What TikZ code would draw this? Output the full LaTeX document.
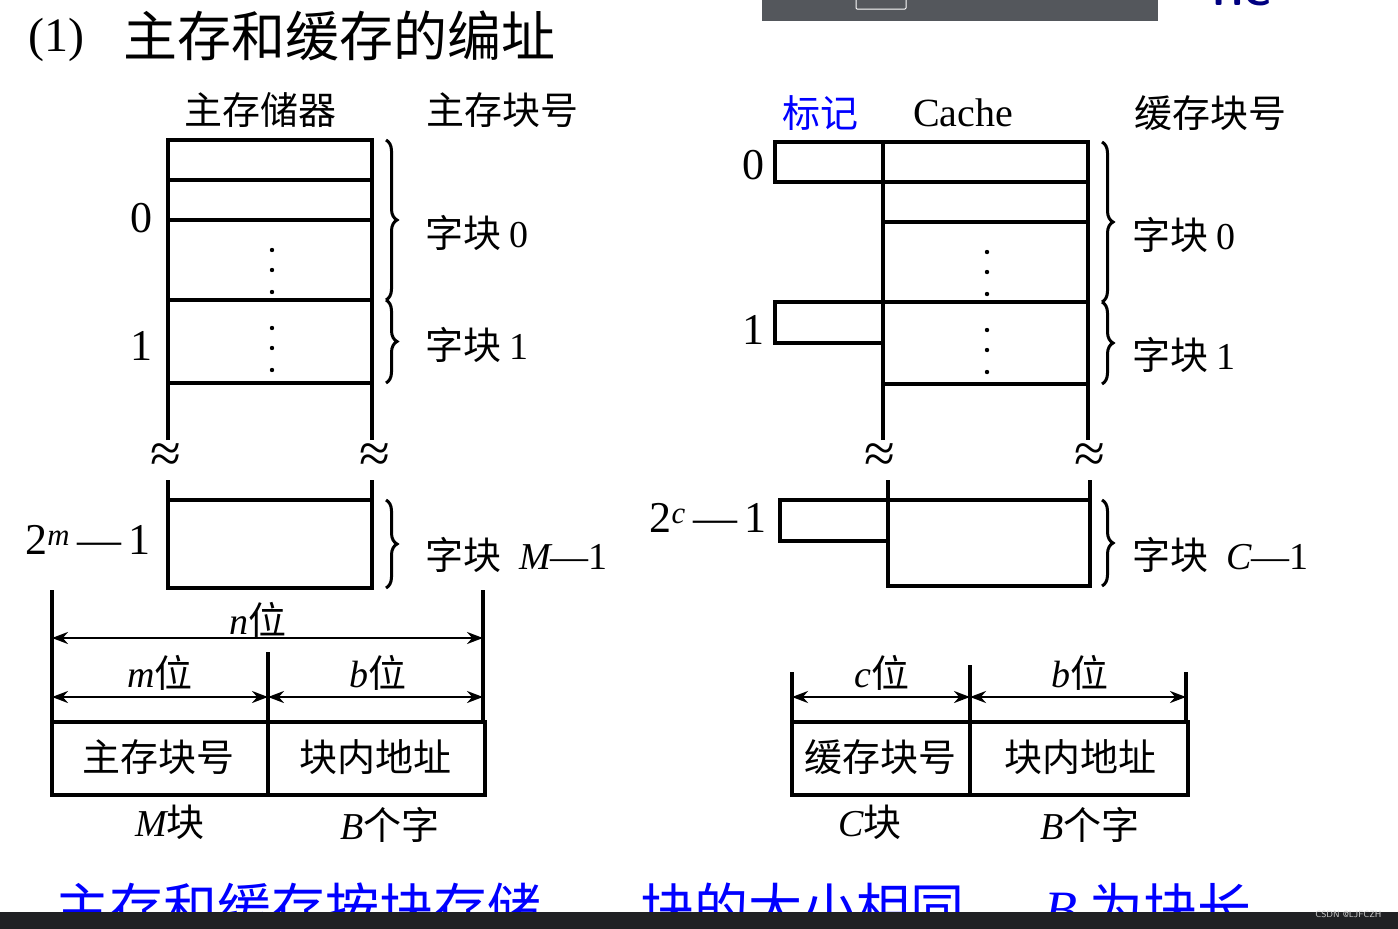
\documentclass[tikz,border=0pt]{standalone}
\usepackage{fontspec}
\setmainfont{Liberation Serif}
\newfontfamily\cjk{Noto Sans CJK SC}
\usetikzlibrary{decorations.pathreplacing,arrows.meta}
\definecolor{barg}{RGB}{84,87,92}
\definecolor{barb}{RGB}{32,33,36}
\begin{document}
\begin{tikzpicture}[x=1pt,y=-1pt,
  thick line/.style={line width=3.5pt},
  lbl/.style={font=\fontsize{38}{40}\selectfont\cjk, inner sep=0pt},
  num/.style={font=\fontsize{44}{46}\selectfont, inner sep=0pt},
  brc/.style={line width=3pt,decorate,decoration={brace,amplitude=11pt}},
  dim/.style={line width=2.5pt,{Stealth[length=16pt]}-{Stealth[length=16pt]}},
  wave/.style={font=\fontsize{56}{56}\selectfont, inner sep=0pt}]
\useasboundingbox (0,0) rectangle (1398,929);
\fill[white] (0,0) rectangle (1398,929);
% top bar
\fill[barg] (762,0) rectangle (1158,21);
\draw[white,line width=1pt,rounded corners=1pt] (856,-2) rectangle (906,9);
\begin{scope}
\clip (1180,0) rectangle (1300,10);
\node[font=\fontsize{40}{40}\selectfont\bfseries\sffamily,text=blue!50!black] (hc) at (1242,-8) {HC};
\end{scope}
% title
\node[anchor=west,font=\fontsize{48}{50}\selectfont] (t1) at (25,40) {(1)};
\node[anchor=west,font=\fontsize{54}{56}\selectfont\cjk] (t2) at (120,36) {主存和缓存的编址};
% ---- left memory
\node[lbl] (h1) at (260,110) {主存储器};
\node[lbl] (h2) at (502,110) {主存块号};
\draw[thick line] (168,440) -- (168,140) -- (372,140) -- (372,440);
\foreach \y in {180,220,300,383} \draw[thick line] (168,\y) -- (372,\y);
\draw[thick line] (168,480) -- (168,588) -- (372,588) -- (372,480);
\draw[thick line] (168,500) -- (372,500);
\foreach \y in {250,270,292,328,348,370} \fill (272,\y) circle (2.2);
\node[wave] (w1) at (166,458) {≈};
\node[wave] (w2) at (375,458) {≈};
\coordinate (b1a) at (386,140); \coordinate (b1b) at (386,300);
\coordinate (b2a) at (386,300); \coordinate (b2b) at (386,383);
\coordinate (b3a) at (386,500); \coordinate (b3b) at (386,588);
\draw[brc] (b1a) -- (b1b); \draw[brc] (b2a) -- (b2b); \draw[brc] (b3a) -- (b3b);
\node[lbl,anchor=west] (k0) at (425,233) {字块 {\rmfamily 0}};
\node[lbl,anchor=west] (k1) at (425,345) {字块 {\rmfamily 1}};
\node[lbl,anchor=west] (km) at (425,555) {字块 {\rmfamily\itshape\ M}{\rmfamily —1}};
\node[num] (n0) at (141,218) {0};
\node[num] (n1) at (141,346) {1};
\node[num] (nm) at (88,540) {2\textsuperscript{\itshape m}\,—\,1};
% left address
\draw[thick line] (52,590) -- (52,795) -- (485,795) -- (485,722) -- (52,722);
\draw[thick line] (483,590) -- (483,722);
\draw[thick line] (268,652) -- (268,795);
\coordinate (a1) at (52,638); \coordinate (a2) at (483,638);
\draw[dim] (a1) -- (a2);
\coordinate (m1) at (52,697); \coordinate (m2) at (268,697); \coordinate (m3) at (483,697);
\draw[dim] (m1) -- (m2); \draw[dim] (m2) -- (m3);
\node[lbl] (nl) at (258,620) {{\rmfamily\itshape n}位};
\node[lbl] (ml) at (160,673) {{\rmfamily\itshape m}位};
\node[lbl] (bl) at (378,673) {{\rmfamily\itshape b}位};
\node[lbl] (f1) at (158,757) {主存块号};
\node[lbl] (f2) at (375,757) {块内地址};
\node[lbl] (mk) at (170,822) {{\rmfamily\itshape M}块};
\node[lbl] (bz) at (390,825) {{\rmfamily\itshape B}个字};
% ---- cache
\node[lbl,text=blue] (h3) at (820,113) {标记};
\node[font=\fontsize{40}{42}\selectfont,inner sep=0pt] (h4) at (963,113) {Cache};
\node[lbl] (h5) at (1210,113) {缓存块号};
\draw[thick line] (883,440) -- (883,142) -- (1088,142) -- (1088,440);
\foreach \y in {182,222,302,384} \draw[thick line] (883,\y) -- (1088,\y);
\draw[thick line] (883,142) -- (775,142) -- (775,182) -- (883,182);
\draw[thick line] (883,302) -- (775,302) -- (775,343) -- (883,343);
\draw[thick line] (888,480) -- (888,586) -- (1090,586) -- (1090,480);
\draw[thick line] (888,500) -- (1090,500);
\draw[thick line] (888,500) -- (780,500) -- (780,541) -- (888,541);
\foreach \y in {252,272,294,330,350,372} \fill (987,\y) circle (2.2);
\node[wave] (w3) at (880,458) {≈};
\node[wave] (w4) at (1090,458) {≈};
\coordinate (c1a) at (1102,142); \coordinate (c1b) at (1102,302);
\coordinate (c2a) at (1102,302); \coordinate (c2b) at (1102,384);
\coordinate (c3a) at (1102,500); \coordinate (c3b) at (1102,586);
\draw[brc] (c1a) -- (c1b); \draw[brc] (c2a) -- (c2b); \draw[brc] (c3a) -- (c3b);
\node[lbl,anchor=west] (q0) at (1132,235) {字块 {\rmfamily 0}};
\node[lbl,anchor=west] (q1) at (1132,355) {字块 {\rmfamily 1}};
\node[lbl,anchor=west] (qc) at (1132,555) {字块 {\rmfamily\itshape\ C}{\rmfamily —1}};
\node[num] (c0) at (753,165) {0};
\node[num] (c1) at (753,330) {1};
\node[num] (cc) at (708,518) {2\textsuperscript{\itshape c}\,—\,1};
% right address
\draw[thick line] (792,672) -- (792,795) -- (1188,795) -- (1188,722) -- (792,722);
\draw[thick line] (1186,672) -- (1186,722);
\draw[thick line] (970,665) -- (970,795);
\coordinate (r1) at (792,697); \coordinate (r2) at (970,697); \coordinate (r3) at (1186,697);
\draw[dim] (r1) -- (r2); \draw[dim] (r2) -- (r3);
\node[lbl] (cl) at (882,673) {{\rmfamily\itshape c}位};
\node[lbl] (bl2) at (1080,673) {{\rmfamily\itshape b}位};
\node[lbl] (f3) at (880,757) {缓存块号};
\node[lbl] (f4) at (1080,757) {块内地址};
\node[lbl] (ck) at (870,822) {{\rmfamily\itshape C}块};
\node[lbl] (bz2) at (1090,825) {{\rmfamily\itshape B}个字};
% bottom
\node[lbl,anchor=west,text=blue,font=\fontsize{54}{56}\selectfont\cjk] (bot1) at (55,908) {主存和缓存按块存储};
\node[lbl,anchor=west,text=blue,font=\fontsize{54}{56}\selectfont\cjk] (bot2) at (640,908) {块的大小相同\hspace{80pt}{\rmfamily\itshape B} 为块长};
\fill[barb] (0,912) rectangle (1398,929);
\node[font=\fontsize{9}{9}\selectfont\sffamily,text=white!80!black,anchor=east] (wm) at (1385,914) {CSDN @LJFCZH};
\end{tikzpicture}
\end{document}
